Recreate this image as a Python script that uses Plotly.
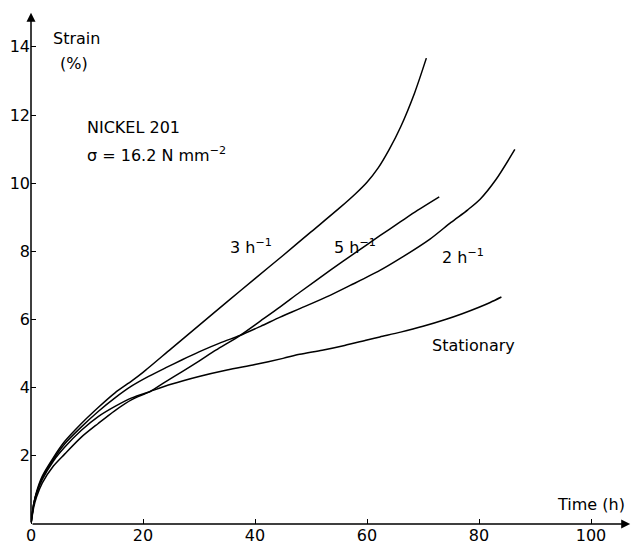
import plotly.graph_objects as go

# Creep strain (%) versus time (h) for Nickel 201 at sigma = 16.2 N/mm^2
t_3h = [0, 0.5, 1, 2, 4, 6, 9, 12, 15, 18, 20, 25, 30, 35, 40, 45, 50, 55, 58, 60, 62, 64, 66, 68.5, 70.6]
s_3h = [0, 0.6, 0.95, 1.4, 1.95, 2.42, 2.95, 3.42, 3.85, 4.2, 4.45, 5.14, 5.83, 6.52, 7.2, 7.88, 8.57, 9.26, 9.7, 10.03, 10.45, 11.0, 11.65, 12.65, 13.67]

t_5h = [0, 0.5, 1, 2, 4, 6, 9, 12, 15, 18, 21.3, 24, 27, 30, 33, 37.3, 41, 44.5, 48, 53.4, 58, 62.3, 66, 69, 72.9]
s_5h = [0, 0.5, 0.8, 1.2, 1.7, 2.05, 2.55, 2.95, 3.33, 3.65, 3.89, 4.17, 4.47, 4.78, 5.1, 5.53, 5.96, 6.37, 6.8, 7.44, 7.97, 8.46, 8.87, 9.2, 9.6]

t_2h = [0, 0.5, 1, 2, 4, 6, 9, 12, 15, 18, 21, 24, 27, 30, 34, 37.3, 41, 44.5, 48, 53.4, 57, 62.3, 66, 71.25, 75, 78, 80.2, 83, 86.4]
s_2h = [0, 0.6, 0.92, 1.35, 1.9, 2.35, 2.85, 3.3, 3.7, 4.05, 4.33, 4.58, 4.82, 5.05, 5.33, 5.53, 5.8, 6.07, 6.32, 6.71, 7.0, 7.44, 7.8, 8.36, 8.85, 9.22, 9.53, 10.1, 10.99]

t_st = [0, 0.5, 1, 2, 4, 6, 9, 12, 15, 18, 21.3, 25, 30, 35, 40, 45, 48, 52, 56, 60, 62.3, 66, 70, 74, 77, 80, 82, 84]
s_st = [0, 0.6, 0.9, 1.3, 1.85, 2.25, 2.75, 3.15, 3.45, 3.7, 3.89, 4.1, 4.33, 4.52, 4.68, 4.86, 4.98, 5.1, 5.24, 5.4, 5.49, 5.63, 5.8, 6.0, 6.17, 6.36, 6.5, 6.66]

x_ticks = [0, 20, 40, 60, 80, 100]
y_ticks = [2, 4, 6, 8, 10, 12, 14]

FONT = "DejaVu Sans"

fig = go.Figure()
for tx, sy in [(t_3h, s_3h), (t_5h, s_5h), (t_2h, s_2h), (t_st, s_st)]:
    fig.add_trace(go.Scatter(
        x=tx, y=sy, mode="lines",
        line=dict(color="black", width=1.5, shape="spline", smoothing=0.8),
        showlegend=False, hoverinfo="skip",
    ))

annotations = [
    # axis arrows
    dict(x=107, y=0, ax=0, ay=0, xref="x", yref="y", axref="x", ayref="y",
         showarrow=True, arrowhead=2, arrowsize=1.2, arrowwidth=1.5, arrowcolor="black", text=""),
    dict(x=0, y=15.0, ax=0, ay=0, xref="x", yref="y", axref="x", ayref="y",
         showarrow=True, arrowhead=2, arrowsize=1.2, arrowwidth=1.5, arrowcolor="black", text=""),
]

labels = [
    (3.6, 14.24, "Strain"),
    (4.8, 13.52, "(%)"),
    (9.6, 11.64, "NICKEL 201"),
    (9.6, 10.85, "σ = 16.2 N mm<sup>−2</sup>"),
    (35.2, 8.15, "3 h<sup>−1</sup>"),
    (53.7, 8.15, "5 h<sup>−1</sup>"),
    (73.0, 7.85, "2 h<sup>−1</sup>"),
    (71.3, 5.23, "Stationary"),
    (93.5, 0.56, "Time (h)"),
]
for lx, ly, txt in labels:
    annotations.append(dict(x=lx, y=ly, xref="x", yref="y", text=txt, showarrow=False,
                            xanchor="left", yanchor="middle",
                            font=dict(family=FONT, size=16, color="black")))

fig.update_layout(
    width=636, height=548,
    margin=dict(l=31, r=3, t=6, b=22),
    paper_bgcolor="white", plot_bgcolor="white",
    annotations=annotations,
    xaxis=dict(range=[0, 107.5], tickvals=x_ticks, ticks="inside", ticklen=5,
               tickcolor="black", showgrid=False, zeroline=False, showline=False,
               tickfont=dict(family=FONT, size=16, color="black")),
    yaxis=dict(range=[0, 15.2], tickvals=y_ticks, ticks="inside", ticklen=5,
               tickcolor="black", showgrid=False, zeroline=False, showline=False,
               tickfont=dict(family=FONT, size=16, color="black")),
)

fig.write_html("out.html")
